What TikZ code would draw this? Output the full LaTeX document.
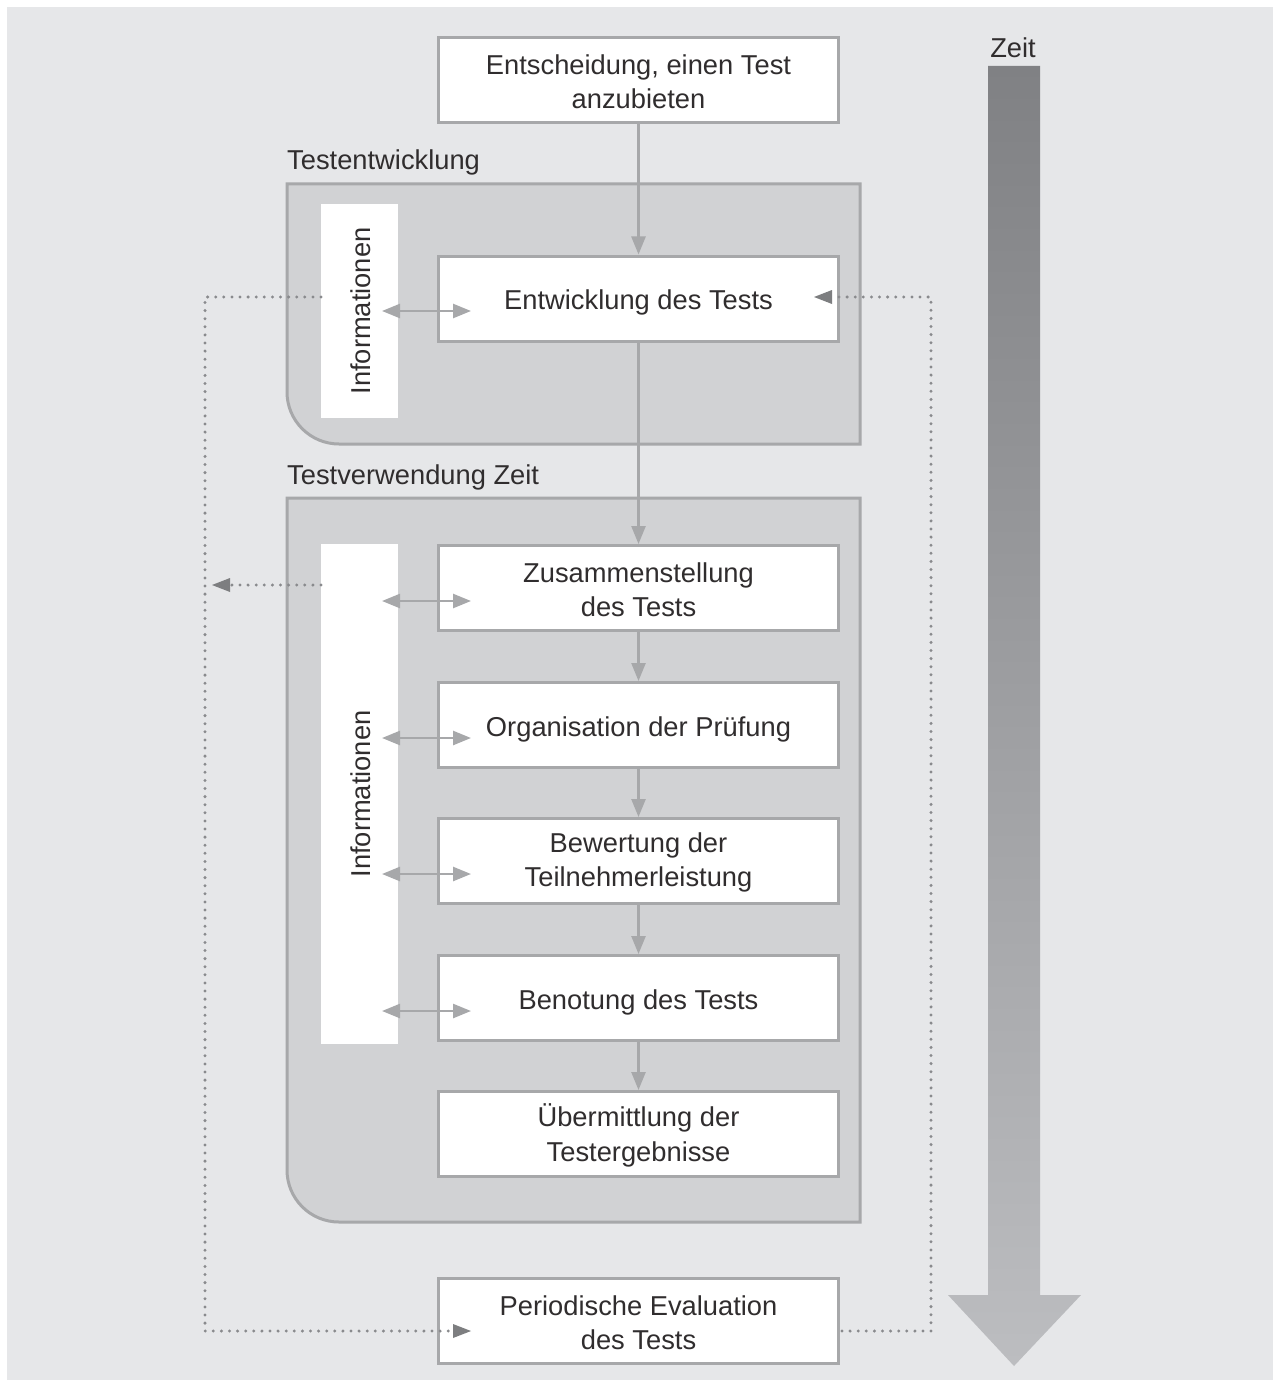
\documentclass[tikz,border=0pt]{standalone}
\usepackage{fontspec}
\setmainfont{Liberation Sans}
\usetikzlibrary{arrows.meta}
\definecolor{bg}{HTML}{E6E7E9}
\definecolor{panel}{HTML}{D1D2D4}
\definecolor{edge}{HTML}{A7A8AA}
\definecolor{dotc}{HTML}{898A8D}
\definecolor{darkhead}{HTML}{7D7E80}
\definecolor{txt}{HTML}{302D2E}
\definecolor{ztop}{HTML}{808184}
\definecolor{zbot}{HTML}{BCBDC0}
\newcommand{\dfont}{\fontsize{27.3}{34.5}\selectfont}
\tikzset{
  box/.style={draw=edge, line width=3pt, fill=white, minimum width=400pt, minimum height=85pt, inner sep=0pt},
  boxtext/.style={align=center, text=txt, font=\dfont, inner sep=0pt},
  infostrip/.style={fill=white, minimum width=77pt, inner sep=0pt},
  infotext/.style={rotate=90, text=txt, font=\dfont, inner sep=0pt},
  grouplabel/.style={anchor=base west, text=txt, font=\dfont, inner sep=0pt},
  panelstyle/.style={draw=edge, line width=3pt, fill=panel},
  flow/.style={draw=edge, line width=2.5pt, -{Triangle[length=18pt,width=14pt]}},
  both/.style={draw=edge, line width=2.5pt, {Triangle[length=18pt,width=14pt]}-{Triangle[length=18pt,width=14pt]}},
  dotline/.style={draw=dotc, line width=3.3pt, line cap=round, dash pattern=on 0pt off 8.1pt},
  dothead/.style={fill=darkhead, draw=none},
}
\begin{document}
\begin{tikzpicture}[x=1pt,y=-1pt]
\useasboundingbox (0,0) rectangle (1277,1380);
\fill[bg] (7,7) rectangle (1273,1380);

% time arrow
\shade[top color=ztop, bottom color=zbot] (988,66) -- (1040,66) -- (1040,1295) -- (1081,1295) -- (1014,1366) -- (948,1295) -- (988,1295) -- cycle;
\node[text=txt, font=\dfont, anchor=base, inner sep=0pt] (zeit) at (1013,58) {Zeit};

% panels
\path[panelstyle] (287,184) -- (860,184) -- (860,444) [rounded corners=52pt] -- (287,444) [sharp corners] -- cycle;
\path[panelstyle] (287,498) -- (860,498) -- (860,1222) [rounded corners=52pt] -- (287,1222) [sharp corners] -- cycle;
\node[grouplabel] (g1) at (287,170) {Testentwicklung};
\node[grouplabel] (g2) at (287,484) {Testverwendung Zeit};

% info strips
\node[infostrip, minimum height=214pt] (info1) at (359.5,311) {};
\node[infotext] (info1t) at (361,311) {Informationen};
\node[infostrip, minimum height=500pt] (info2) at (359.5,794) {};
\node[infotext] (info2t) at (361,794) {Informationen};

% boxes
\node[box] (b0) at (638.5,80) {};
\node[box] (b1) at (638.5,298.5) {};
\node[box] (b2) at (638.5,588) {};
\node[box] (b3) at (638.5,725) {};
\node[box] (b4) at (638.5,861) {};
\node[box] (b5) at (638.5,998) {};
\node[box] (b6) at (638.5,1134) {};
\node[box] (b7) at (638.5,1321) {};
\node[boxtext, yshift=-1.5pt] (t0) at (b0.center) {Entscheidung, einen Test\\anzubieten};
\node[boxtext, yshift=-4pt] (t1) at (b1.center) {Entwicklung des Tests};
\node[boxtext, yshift=-1.5pt] (t2) at (b2.center) {Zusammenstellung\\des Tests};
\node[boxtext, yshift=-4pt] (t3) at (b3.center) {Organisation der Prüfung};
\node[boxtext, yshift=-1.5pt] (t4) at (b4.center) {Bewertung der\\Teilnehmerleistung};
\node[boxtext, yshift=-4pt] (t5) at (b5.center) {Benotung des Tests};
\node[boxtext, yshift=-1.5pt] (t6) at (b6.center) {Übermittlung der\\Testergebnisse};
\node[boxtext, yshift=-1.5pt] (t7) at (b7.center) {Periodische Evaluation\\des Tests};

% flow arrows
\draw[flow] (b0.south) -- (b1.north);
\draw[flow] (b1.south) -- (b2.north);
\draw[flow] (b2.south) -- (b3.north);
\draw[flow] (b3.south) -- (b4.north);
\draw[flow] (b4.south) -- (b5.north);
\draw[flow] (b5.south) -- (b6.north);

% information double arrows
\coordinate (i1) at (382,311);  \coordinate (e1) at (471,311);
\coordinate (i2) at (382,601);  \coordinate (e2) at (471,601);
\coordinate (i3) at (382,738);  \coordinate (e3) at (471,738);
\coordinate (i4) at (382,874);  \coordinate (e4) at (471,874);
\coordinate (i5) at (382,1011); \coordinate (e5) at (471,1011);
\draw[both] (i1) -- (e1);
\draw[both] (i2) -- (e2);
\draw[both] (i3) -- (e3);
\draw[both] (i4) -- (e4);
\draw[both] (i5) -- (e5);

% dotted feedback loops
\coordinate (ls) at (321,297);
\coordinate (lc) at (205,297);
\coordinate (lb) at (205,1331);
\coordinate (le) at (454,1331);
\draw[dotline] (ls) -- (lc) -- (lb) -- (le);
\fill[dothead] (471,1331) -- (453,1324) -- (453,1338) -- cycle;

\coordinate (rs) at (842,1331);
\coordinate (rb) at (931,1331);
\coordinate (rc) at (931,297);
\coordinate (re) at (832,297);
\draw[dotline] (rs) -- (rb) -- (rc) -- (re);
\fill[dothead] (814,297) -- (832,290) -- (832,304) -- cycle;

\coordinate (ms) at (321,585);
\coordinate (me) at (231,585);
\draw[dotline] (ms) -- (me);
\fill[dothead] (212,585) -- (230,578) -- (230,592) -- cycle;
\end{tikzpicture}
\end{document}
